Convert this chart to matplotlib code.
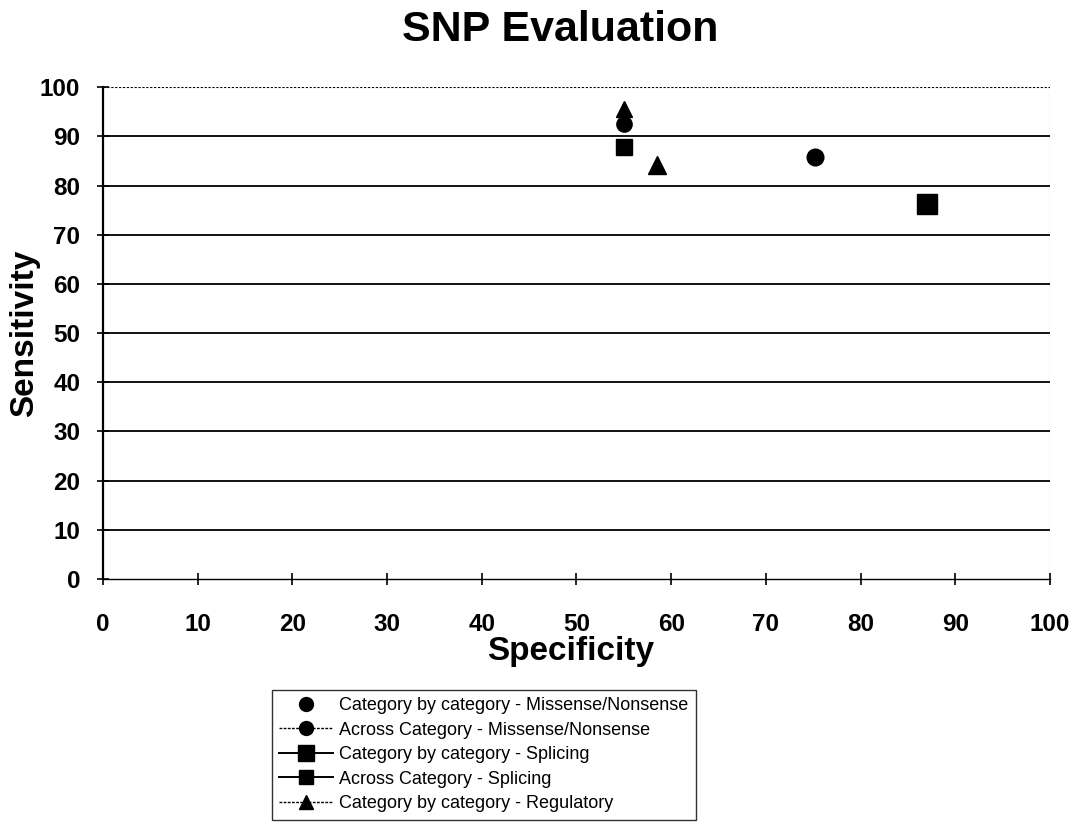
import matplotlib.pyplot as plt
from matplotlib.lines import Line2D

plt.rcParams['font.family'] = ['Liberation Sans', 'DejaVu Sans']

# series: (specificity, sensitivity)
cat_missense_x = [75.2]
cat_missense_y = [85.8]
across_missense_x = [55.0]
across_missense_y = [92.6]
cat_splicing_x = [87.0]
cat_splicing_y = [76.2]
across_splicing_x = [55.0, 87.0]
across_splicing_y = [87.8, 76.2]
cat_regulatory_x = [58.5]
cat_regulatory_y = [84.2]
across_regulatory_x = [55.0]
across_regulatory_y = [95.5]

labels = [
    "Category by category - Missense/Nonsense",
    "Across Category - Missense/Nonsense",
    "Category by category - Splicing",
    "Across Category - Splicing",
    "Category by category - Regulatory",
]

fig = plt.figure(figsize=(10.79, 8.30), dpi=100)
ax = fig.add_axes([0.0955, 0.3024, 0.8775, 0.5926])

ax.plot(cat_missense_x, cat_missense_y, 'o', color='black', ms=12, ls='none')
ax.plot(across_missense_x, across_missense_y, 'o', color='black', ms=11, ls='none')
ax.plot(cat_splicing_x, cat_splicing_y, 's', color='black', ms=14, ls='none')
ax.plot(across_splicing_x, across_splicing_y, 's', color='black', ms=11, ls='none')
ax.plot(cat_regulatory_x, cat_regulatory_y, '^', color='black', ms=13, ls='none')
ax.plot(across_regulatory_x, across_regulatory_y, '^', color='black', ms=12, ls='none')

ax.set_xlim(0, 100)
ax.set_ylim(0, 100)
ax.set_xticks(range(0, 101, 10))
ax.set_yticks(range(0, 101, 10))
for y in range(10, 100, 10):
    ax.axhline(y, color='black', lw=1.3, zorder=0)
ax.axhline(100, color='black', lw=0.8, ls=(0, (2, 1.5)), zorder=0)

for side in ['top', 'right']:
    ax.spines[side].set_visible(False)
ax.spines['left'].set_linewidth(1.6)
ax.spines['bottom'].set_linewidth(1.0)
ax.spines['bottom'].set_linestyle((0, (3, 1)))
ax.axvline(100, color='black', lw=0.8, ls=(0, (1, 2)))

ax.tick_params(axis='both', direction='inout', length=9, width=1.2,
               labelsize=17.5)
ax.tick_params(axis='x', pad=20)
ax.tick_params(axis='y', pad=12)
for t in ax.get_xticklabels() + ax.get_yticklabels():
    t.set_fontweight('bold')

ax.set_title("SNP Evaluation", fontsize=31, fontweight='bold', pad=33, x=0.483)
ax.set_xlabel("Specificity", fontsize=24, fontweight='bold', labelpad=2)
ax.xaxis.set_label_coords(0.494, -0.115)
ax.set_ylabel("Sensitivity", fontsize=24, fontweight='bold', labelpad=0)

handles = [
    Line2D([], [], marker='o', color='black', ls='none', ms=10),
    Line2D([], [], marker='o', color='black', ls=(0, (2, 1)), lw=1, ms=10),
    Line2D([], [], marker='s', color='black', ls='-', lw=1.4, ms=12),
    Line2D([], [], marker='s', color='black', ls='-', lw=1.4, ms=10),
    Line2D([], [], marker='^', color='black', ls=(0, (2, 1)), lw=1, ms=10),
]
leg = fig.legend(handles, labels, loc='upper right', bbox_to_anchor=(0.645, 0.169),
                 fontsize=13, frameon=True, fancybox=False, edgecolor='black',
                 handlelength=3.0, handletextpad=0.35, labelspacing=0.42,
                 borderpad=0.4, borderaxespad=0)
leg.get_frame().set_linewidth(1.0)

fig.savefig("out.png", dpi=100)
